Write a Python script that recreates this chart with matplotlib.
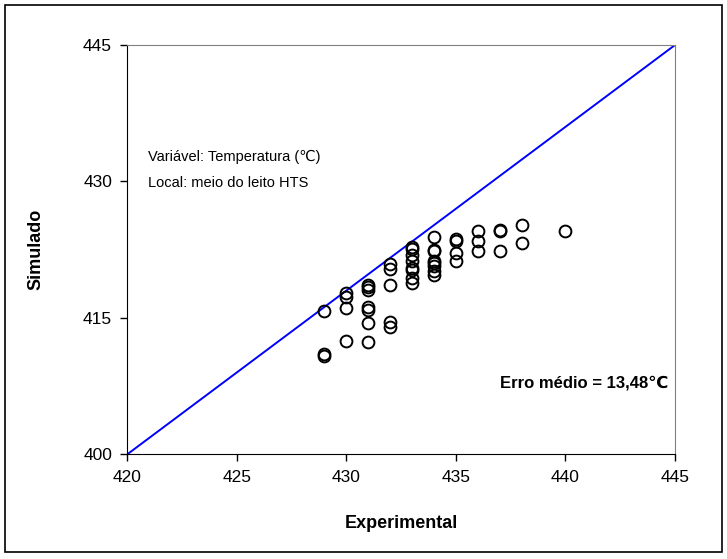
import matplotlib.pyplot as plt
from matplotlib.patches import Rectangle

plt.rcParams['font.family'] = ['Liberation Sans', 'DejaVu Sans']

# experimental vs simulated temperatures (degC)
experimental = [429, 429, 429,
                430, 430, 430, 430,
                431, 431, 431, 431, 431, 431, 431,
                432, 432, 432, 432, 432,
                433, 433, 433, 433, 433, 433, 433, 433,
                434, 434, 434, 434, 434, 434, 434, 434,
                435, 435, 435, 435,
                436, 436, 436,
                437, 437, 437,
                438, 438,
                440]
simulado = [415.8, 411.0, 410.8,
            417.7, 417.3, 416.1, 412.5,
            418.6, 418.4, 418.1, 416.2, 415.9, 414.4, 412.4,
            420.9, 420.4, 418.6, 414.6, 414.0,
            422.8, 422.6, 421.9, 421.2, 420.5, 420.3, 419.4, 418.8,
            423.9, 422.5, 422.3, 421.3, 421.0, 420.7, 420.1, 419.7,
            423.7, 423.4, 422.1, 421.2,
            424.5, 423.4, 422.4,
            424.7, 424.5, 422.3,
            425.2, 423.2,
            424.5]

xticks = [420, 425, 430, 435, 440, 445]
yticks = [400, 415, 430, 445]


def main():
    fig = plt.figure(figsize=(7.27, 5.59), dpi=100)
    ax = fig.add_axes([0.1751, 0.1873, 0.7534, 0.7322])

    ax.plot([420, 445], [400, 445], color='#0000ff', lw=1.4, zorder=2)
    ax.plot(experimental, simulado, 'o', mfc='none', mec='black',
            ms=8.5, mew=1.4, zorder=3)

    ax.set_xlim(420, 445)
    ax.set_ylim(400, 445)
    ax.set_xticks(xticks)
    ax.set_yticks(yticks)
    ax.tick_params(direction='out', length=5, width=1, labelsize=12.5, pad=6)
    for s in ['top', 'right']:
        ax.spines[s].set_color('#808080')
    ax.spines['left'].set_color('black')
    ax.spines['bottom'].set_color('black')

    ax.set_xlabel('Experimental', fontsize=13, fontweight='bold', labelpad=22)
    ax.set_ylabel('Simulado', fontsize=13, fontweight='bold', labelpad=28)

    ax.text(420.95, 432.7, 'Variável: Temperatura (℃)', fontsize=10.5, va='center')
    ax.text(420.95, 429.8, 'Local: meio do leito HTS', fontsize=10.5, va='center')
    ax.text(444.7, 407.8, 'Erro médio = 13,48℃', fontsize=12,
            fontweight='bold', ha='right', va='center')

    fig.patches.append(Rectangle((0.007, 0.012), 0.986, 0.979, fill=False,
                                 edgecolor='black', lw=1.2,
                                 transform=fig.transFigure))

    fig.savefig('out.png', dpi=100)


if __name__ == "__main__":
    main()
